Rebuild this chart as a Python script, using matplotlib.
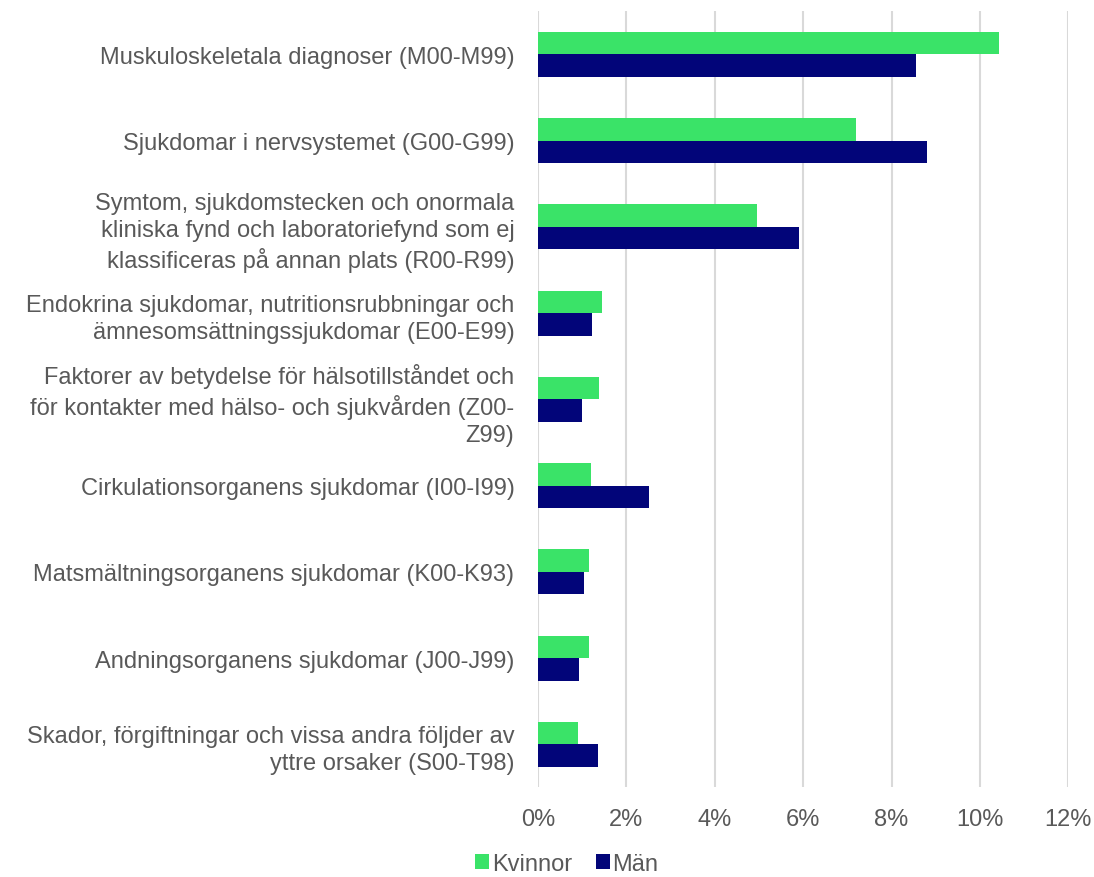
import matplotlib.pyplot as plt
import numpy as np
from matplotlib.ticker import FuncFormatter

plt.rcParams["font.family"] = ["Liberation Sans", "DejaVu Sans"]

categories = [
    "Muskuloskeletala diagnoser (M00-M99)",
    "Sjukdomar i nervsystemet (G00-G99)",
    "Symtom, sjukdomstecken och onormala\nkliniska fynd och laboratoriefynd som ej\nklassificeras på annan plats (R00-R99)",
    "Endokrina sjukdomar, nutritionsrubbningar och\nämnesomsättningssjukdomar (E00-E99)",
    "Faktorer av betydelse för hälsotillståndet och\nför kontakter med hälso- och sjukvården (Z00-\nZ99)",
    "Cirkulationsorganens sjukdomar (I00-I99)",
    "Matsmältningsorganens sjukdomar (K00-K93)",
    "Andningsorganens sjukdomar (J00-J99)",
    "Skador, förgiftningar och vissa andra följder av\nyttre orsaker (S00-T98)",
]
kvinnor = [10.44, 7.20, 4.96, 1.44, 1.38, 1.20, 1.15, 1.15, 0.90]
man = [8.55, 8.79, 5.91, 1.23, 1.00, 2.50, 1.03, 0.93, 1.35]
xticks = [0, 2, 4, 6, 8, 10, 12]

GREEN = "#3AE368"
NAVY = "#020579"
TEXT = "#595959"
FS = 17

fig = plt.figure(figsize=(10.94, 8.78), dpi=100)
ax = fig.add_axes([0.4918, 0.102, 0.4848, 0.884])

y = np.arange(len(categories))
h = 0.26
ax.barh(y - h / 2, kvinnor, height=h, color=GREEN, label="Kvinnor", zorder=3)
ax.barh(y + h / 2, man, height=h, color=NAVY, label="Män", zorder=3)

ax.set_ylim(len(categories) - 0.5, -0.5)
ax.set_xlim(0, 12)
ax.set_xticks(xticks)
ax.xaxis.set_major_formatter(FuncFormatter(lambda v, _: f"{v:.0f}%"))
ax.set_yticks(y)
ax.set_yticklabels(categories, fontsize=FS, color=TEXT, linespacing=1.3)
ax.tick_params(axis="y", length=0, pad=17)
ax.tick_params(axis="x", length=0, pad=15, labelsize=FS, labelcolor=TEXT)
ax.grid(axis="x", color="#D9D9D9", linewidth=1.5, zorder=0)
for side in ax.spines.values():
    side.set_visible(False)

fig.legend(loc="center", bbox_to_anchor=(0.518, 0.015), ncol=2, frameon=False,
           fontsize=FS, labelcolor=TEXT, handlelength=0.6, handleheight=0.6,
           handletextpad=0.1, columnspacing=1.0)

fig.savefig("out.png", dpi=100)
